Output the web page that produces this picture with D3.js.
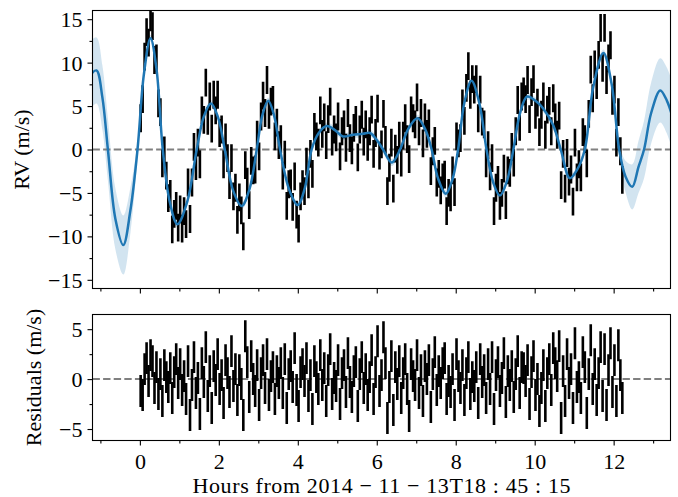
<!DOCTYPE html>
<html>
<head>
<meta charset="utf-8">
<script src="https://cdn.jsdelivr.net/npm/d3@7"></script>
<style>
  body { margin: 0; background: #fff; }
  svg { display: block; }
</style>
</head>
<body>
<div id="chart"></div>
<script>
// Observation times (hours from 2014-11-13T18:45:15)
const obsHours = [
  0.02,0.07,0.12,0.17,0.22,0.27,0.32,0.37,0.42,0.47,
  0.52,0.57,0.62,0.67,0.72,0.77,0.82,0.87,0.92,0.97,
  1.02,1.07,1.12,1.17,1.22,1.27,1.32,1.37,1.42,1.47,
  1.52,1.57,1.62,1.67,1.72,1.77,1.82,1.87,1.92,1.97,
  2.02,2.07,2.12,2.17,2.22,2.27,2.32,2.37,2.42,2.47,
  2.52,2.57,2.62,2.67,2.72,2.77,2.82,2.87,2.92,2.97,
  3.02,3.07,3.12,3.17,3.22,3.27,3.32,3.37,3.42,3.47,
  3.52,3.57,3.62,3.67,3.72,3.77,3.82,3.87,3.92,3.97,
  4.02,4.07,4.12,4.17,4.22,4.27,4.32,4.37,4.42,4.47,
  4.52,4.57,4.62,4.67,4.72,4.77,4.82,4.87,4.92,4.97,
  5.02,5.07,5.12,5.17,5.22,5.27,5.32,5.37,5.42,5.47,
  5.52,5.57,5.62,5.67,5.72,5.77,5.82,5.87,5.92,5.97,
  6.02,6.07,6.12,6.17,6.22,6.27,6.32,6.37,6.42,6.47,
  6.52,6.57,6.62,6.67,6.72,6.77,6.82,6.87,6.92,6.97,
  7.02,7.07,7.12,7.17,7.22,7.27,7.32,7.37,7.42,7.47,
  7.52,7.57,7.62,7.67,7.72,7.77,7.82,7.87,7.92,7.97,
  8.02,8.07,8.12,8.17,8.22,8.27,8.32,8.37,8.42,8.47,
  8.52,8.57,8.62,8.67,8.72,8.77,8.82,8.87,8.92,8.97,
  9.02,9.07,9.12,9.17,9.22,9.27,9.32,9.37,9.42,9.47,
  9.52,9.57,9.62,9.67,9.72,9.77,9.82,9.87,9.92,9.97,
  10.02,10.07,10.12,10.17,10.22,10.27,10.32,10.37,10.42,10.47,
  10.52,10.57,10.62,10.67,10.72,10.77,10.82,10.87,10.92,10.97,
  11.02,11.07,11.12,11.17,11.22,11.27,11.32,11.37,11.42,11.47,
  11.52,11.57,11.62,11.67,11.72,11.77,11.82,11.87,11.92,11.97,
  12.02,12.07,12.12,12.17,12.22
];

// Measured radial velocities (m/s)
const obsRV = [
  3.6,5.8,10.7,13.5,12.3,15.2,14.2,10.3,10.5,5.3,
  4.3,-1.6,-0.1,-3.0,-5.6,-5.1,-9.2,-7.4,-6.5,-9.0,
  -6.9,-9.1,-7.1,-8.6,-3.8,-8.0,-3.8,0.3,-1.9,0.8,
  -1.7,4.5,3.4,7.7,3.3,6.1,2.4,6.3,4.5,6.3,
  1.9,2.3,-1.7,1.4,-1.0,-4.1,-1.0,-5.4,-4.4,-8.1,
  -5.5,-7.0,-10.0,-1.8,-3.7,-6.4,-1.3,-2.4,-2.3,1.7,
  -0.8,3.8,6.2,4.2,8.0,4.0,5.5,5.7,1.5,3.1,
  0.5,1.2,-3.0,-0.6,-6.5,-4.0,-3.9,-6.6,-3.1,-7.5,
  -9.1,-5.4,-4.0,-4.8,-1.4,-4.0,-0.5,-2.8,2.6,1.5,
  0.8,4.5,1.8,3.7,0.5,3.5,5.5,0.9,2.3,1.4,
  3.8,-0.8,2.1,2.9,0.2,4.2,1.3,-0.1,2.5,3.4,
  -0.9,2.3,4.0,0.9,2.9,0.3,2.1,4.6,-0.5,1.9,
  4.7,-0.7,0.6,4.1,1.1,-4.8,-2.1,0.8,-4.5,0.1,
  -1.2,1.6,-1.5,1.6,3.6,1.2,-1.1,4.5,3.6,2.9,
  6.0,2.1,4.2,0.7,3.7,1.8,3.0,-2.5,-0.2,1.0,
  -3.8,-2.8,-4.7,-3.2,-2.9,-7.1,-5.0,-5.5,-2.4,-4.9,
  1.5,0.7,1.3,5.3,3.3,7.1,9.6,6.3,8.1,6.9,
  8.1,3.6,6.9,3.2,2.9,-1.6,0.5,-3.1,-1.0,-7.1,
  -4.4,-3.5,-6.5,-5.0,-2.2,-6.4,-2.4,-2.7,0.3,-1.5,
  2.1,5.7,2.6,6.1,6.7,5.8,8.0,3.5,6.6,8.1,
  4.0,5.4,2.0,4.0,6.1,1.7,4.6,5.6,2.1,5.9,
  3.7,1.7,3.9,-4.1,-0.5,-4.5,-0.4,-3.7,-2.3,-6.0,
  0.8,-3.2,-1.7,-3.2,2.0,1.2,-1.6,4.1,9.2,5.9,
  9.8,7.4,10.9,14.0,9.4,14.0,8.0,10.5,12.0,5.6,
  6.9,0.8,4.3,-0.2,-3.5
];

// Residuals after subtracting the GP mean (m/s)
const obsResid = [
  -1.2,-1.6,1.0,2.1,-0.2,2.4,1.8,-0.9,1.2,-1.5,
  0.5,-2.2,1.4,0.2,-0.8,1.1,-1.9,0.7,2.0,-0.4,
  1.5,-1.1,0.3,-2.0,1.8,-3.6,-0.6,2.2,-1.4,0.1,
  -3.5,1.6,-0.3,3.2,-1.7,0.8,-2.9,1.3,-0.1,2.5,
  -1.0,0.4,-2.4,1.9,0.6,-1.3,2.8,-0.7,1.0,-2.1,
  0.9,-0.5,-3.6,4.3,1.7,-1.8,2.3,0.0,-1.2,1.4,
  -2.6,0.6,1.9,-0.9,2.5,-1.6,0.3,1.2,-2.0,0.8,
  -0.4,1.6,-1.4,2.0,-2.9,0.5,1.3,-0.8,3.1,-1.1,
  -2.7,0.7,1.5,-0.2,2.1,-1.7,0.4,-3.0,1.8,0.2,
  -1.0,2.4,-0.6,1.1,-2.2,0.9,3.0,-1.5,0.1,-0.7,
  1.9,-2.5,0.6,1.4,-1.3,2.6,-0.3,-1.8,0.8,1.7,
  -2.7,0.5,2.2,-0.9,1.0,-1.6,0.2,2.9,-2.0,0.7,
  3.8,-1.2,0.4,4.2,1.6,-3.9,-0.8,2.3,-3.1,1.2,
  -0.5,1.8,-1.9,0.6,2.0,-1.0,-3.7,1.5,0.3,-0.6,
  2.4,-1.4,0.9,-2.2,1.3,0.0,1.9,-2.8,0.5,2.7,
  -1.1,0.8,-0.4,1.6,2.1,-2.0,-0.2,-1.3,1.0,-2.6,
  2.5,0.3,-0.9,1.4,-2.1,0.6,2.2,-1.5,0.2,-0.7,
  1.2,-2.4,2.0,-0.3,0.9,-1.9,1.5,-1.0,2.2,-3.0,
  0.4,1.7,-1.2,0.1,2.6,-2.3,0.8,-0.6,1.3,-1.8,
  0.5,2.8,-1.4,1.2,1.1,-0.2,1.9,-2.5,0.7,2.3,
  -1.6,0.0,-3.2,-0.9,1.4,-2.7,0.6,2.0,-1.1,3.1,
  1.6,0.3,3.3,-3.9,0.8,-2.2,2.5,-0.4,1.0,-2.9,
  3.6,-0.8,0.2,-1.9,2.7,1.2,-3.4,0.5,3.9,-1.0,
  1.5,-2.1,0.6,3.2,-1.7,3.0,-2.6,0.9,3.6,-1.3,
  1.9,-2.2,3.4,0.4,-1.9
];

const rvErr = 1.6; // error bar half-length (m/s)

// GP prediction: knots of the mean curve and its 1-sigma width
const modelHours = [
  -1.25,-1.10,-0.95,-0.81,-0.62,-0.42,-0.24,-0.06,0.10,0.27,
  0.42,0.58,0.76,0.95,1.20,1.44,1.62,1.80,1.98,2.15,
  2.36,2.58,2.78,2.96,3.10,3.25,3.40,3.55,3.78,4.00,
  4.18,4.35,4.53,4.73,4.95,5.14,5.40,5.65,5.83,6.00,
  6.16,6.38,6.59,6.80,7.03,7.22,7.39,7.55,7.75,7.92,
  8.06,8.22,8.40,8.60,8.78,8.95,9.12,9.30,9.46,9.63,
  9.81,10.05,10.22,10.47,10.66,10.89,11.08,11.27,11.48,11.74,
  11.95,12.14,12.30,12.47,12.63,12.77,12.95,13.18,13.35,13.50
];
const modelMean = [
  8.6,9.1,6.0,0,-8.0,-11.0,-7.0,0,8.6,12.8,
  9.3,0,-6.1,-8.6,-6.0,0,3.8,5.3,3.7,0,
  -4.7,-6.5,-4.5,0,3.9,5.6,3.9,0,-4.6,-6.4,
  -4.4,0,1.9,2.7,2.2,1.5,1.7,1.8,1.9,1.1,
  0,-1.5,0,2.4,3.6,2.4,0,-3.3,-5.1,-3.4,
  0,5.4,7.9,5.3,0,-3.8,-5.3,-3.6,0,4.2,
  6.1,5.5,4.7,2.8,0,-3.3,-2.3,0,7.1,11.1,
  7.5,0,-3.1,-4.3,-2.0,0,4.2,6.8,5.6,3.6
];
const modelSigma = [
  3.9,3.8,3.7,3.6,3.5,3.4,2.6,0.9,0.5,0.4,
  0.4,0.4,0.4,0.4,0.4,0.4,0.4,0.4,0.4,0.4,
  0.4,0.4,0.4,0.4,0.4,0.4,0.4,0.4,0.4,0.4,
  0.4,0.4,0.4,0.4,0.4,0.4,0.4,0.4,0.4,0.4,
  0.4,0.4,0.4,0.4,0.4,0.4,0.4,0.4,0.4,0.4,
  0.4,0.4,0.4,0.4,0.4,0.4,0.4,0.4,0.4,0.4,
  0.4,0.4,0.4,0.4,0.4,0.4,0.4,0.4,0.4,0.4,
  0.5,0.8,1.8,2.6,3.0,3.3,3.5,3.7,3.8,3.9
];

// Tick values
const xTicks = [0, 2, 4, 6, 8, 10, 12];
const xMinorTicks = [-1, 1, 3, 5, 7, 9, 11, 13];
const rvTicks = [-15, -10, -5, 0, 5, 10, 15];
const rvMinorTicks = [-12.5, -7.5, -2.5, 2.5, 7.5, 12.5];
const resTicks = [-5, 0, 5];
const resMinorTicks = [-2.5, 2.5];

const xTitle = "Hours from 2014 \u2212 11 \u2212 13T18 : 45 : 15";

const width = 678, height = 497;
const plotLeft = 92.5, plotRight = 670.5;
const top1 = 10.5, bottom1 = 288.5;
const top2 = 314.5, bottom2 = 440.5;
const fontFamily = "'Liberation Serif', 'DejaVu Serif', serif";
const blue = "#1f77b4";

const svg = d3.select("#chart")
  .append("svg")
    .attr("width", width)
    .attr("height", height);

const x = d3.scaleLinear().domain([-1.2, 13.44]).range([plotLeft, plotRight]);
const yRV = d3.scaleLinear().domain([-16, 16]).range([bottom1, top1]);
const yRes = d3.scaleLinear().domain([-6.15, 6.47]).range([bottom2, top2]);

const model = modelHours.map((t, i) => ({ t, mean: modelMean[i], sigma: modelSigma[i] }));
const rvData = obsHours.map((t, i) => ({ t, v: obsRV[i] }));
const resData = obsHours.map((t, i) => ({ t, v: obsResid[i] }));

// Clip paths for each panel.
const defs = svg.append("defs");
defs.append("clipPath").attr("id", "clip-top")
  .append("rect")
    .attr("x", plotLeft).attr("y", top1)
    .attr("width", plotRight - plotLeft).attr("height", bottom1 - top1);
defs.append("clipPath").attr("id", "clip-bot")
  .append("rect")
    .attr("x", plotLeft).attr("y", top2)
    .attr("width", plotRight - plotLeft).attr("height", bottom2 - top2);

// ---- Top panel: RV data with GP prediction ----
const topG = svg.append("g").attr("clip-path", "url(#clip-top)");

const band = d3.area()
  .x(d => x(d.t))
  .y0(d => yRV(d.mean - d.sigma))
  .y1(d => yRV(d.mean + d.sigma))
  .curve(d3.curveCatmullRom);

topG.append("path")
  .datum(model)
  .attr("fill", blue)
  .attr("fill-opacity", 0.2)
  .attr("d", band);

topG.append("line")
  .attr("x1", plotLeft).attr("x2", plotRight)
  .attr("y1", yRV(0)).attr("y2", yRV(0))
  .attr("stroke", "#808080")
  .attr("stroke-width", 2)
  .attr("stroke-dasharray", "7.4,3.2");

topG.append("g")
  .selectAll("line")
  .data(rvData)
  .join("line")
    .attr("x1", d => x(d.t)).attr("x2", d => x(d.t))
    .attr("y1", d => yRV(d.v - rvErr))
    .attr("y2", d => yRV(d.v + rvErr))
    .attr("stroke", "#000")
    .attr("stroke-width", 2.6);

const meanLine = d3.line()
  .x(d => x(d.t))
  .y(d => yRV(d.mean))
  .curve(d3.curveCatmullRom);

topG.append("path")
  .datum(model)
  .attr("fill", "none")
  .attr("stroke", blue)
  .attr("stroke-width", 2.5)
  .attr("d", meanLine);

// ---- Bottom panel: residuals ----
const botG = svg.append("g").attr("clip-path", "url(#clip-bot)");

botG.append("line")
  .attr("x1", plotLeft).attr("x2", plotRight)
  .attr("y1", yRes(0)).attr("y2", yRes(0))
  .attr("stroke", "#808080")
  .attr("stroke-width", 2)
  .attr("stroke-dasharray", "7.4,3.2");

botG.append("g")
  .selectAll("line")
  .data(resData)
  .join("line")
    .attr("x1", d => x(d.t)).attr("x2", d => x(d.t))
    .attr("y1", d => yRes(d.v - rvErr))
    .attr("y2", d => yRes(d.v + rvErr))
    .attr("stroke", "#000")
    .attr("stroke-width", 2.6);

// ---- Axes ----
function styleAxis(g) {
  g.attr("font-family", fontFamily).attr("font-size", 22);
  g.select(".domain").remove();
  g.selectAll(".tick line").attr("stroke", "#000").attr("stroke-width", 1.1);
  g.selectAll(".tick text").attr("fill", "#000");
}

function drawPanelAxes(y, yMajor, yMinor, top, bottom, showXLabels) {
  svg.append("g")
    .attr("transform", `translate(${plotLeft},0)`)
    .call(d3.axisLeft(y).tickValues(yMajor).tickSize(5).tickPadding(5).tickFormat(d3.format("d")))
    .call(styleAxis)
    .selectAll(".tick text").attr("dy", "0.34em");

  svg.append("g")
    .attr("transform", `translate(${plotLeft},0)`)
    .call(d3.axisLeft(y).tickValues(yMinor).tickSize(3).tickFormat(""))
    .call(styleAxis);

  const xa = svg.append("g")
    .attr("transform", `translate(0,${bottom})`)
    .call(d3.axisBottom(x).tickValues(xTicks).tickSize(5).tickPadding(6)
      .tickFormat(showXLabels ? d3.format("d") : ""))
    .call(styleAxis);
  xa.selectAll(".tick text").attr("dy", "0.78em");

  svg.append("g")
    .attr("transform", `translate(0,${bottom})`)
    .call(d3.axisBottom(x).tickValues(xMinorTicks).tickSize(3).tickFormat(""))
    .call(styleAxis);

  svg.append("rect")
    .attr("x", plotLeft).attr("y", top)
    .attr("width", plotRight - plotLeft).attr("height", bottom - top)
    .attr("fill", "none")
    .attr("stroke", "#000")
    .attr("stroke-width", 1.1);
}

drawPanelAxes(yRV, rvTicks, rvMinorTicks, top1, bottom1, false);
drawPanelAxes(yRes, resTicks, resMinorTicks, top2, bottom2, true);

// ---- Axis titles ----
svg.append("text")
  .attr("transform", `translate(29,${(top1 + bottom1) / 2}) rotate(-90)`)
  .attr("text-anchor", "middle")
  .attr("font-family", fontFamily)
  .attr("font-size", 22)
  .text("RV (m/s)");

svg.append("text")
  .attr("transform", `translate(41,${(top2 + bottom2) / 2}) rotate(-90)`)
  .attr("text-anchor", "middle")
  .attr("font-family", fontFamily)
  .attr("font-size", 22)
  .text("Residuals (m/s)");

svg.append("text")
  .attr("x", (plotLeft + plotRight) / 2)
  .attr("y", 493)
  .attr("text-anchor", "middle")
  .attr("font-family", fontFamily)
  .attr("font-size", 22)
  .attr("textLength", 378)
  .attr("lengthAdjust", "spacing")
  .text(xTitle);
</script>
</body>
</html>
